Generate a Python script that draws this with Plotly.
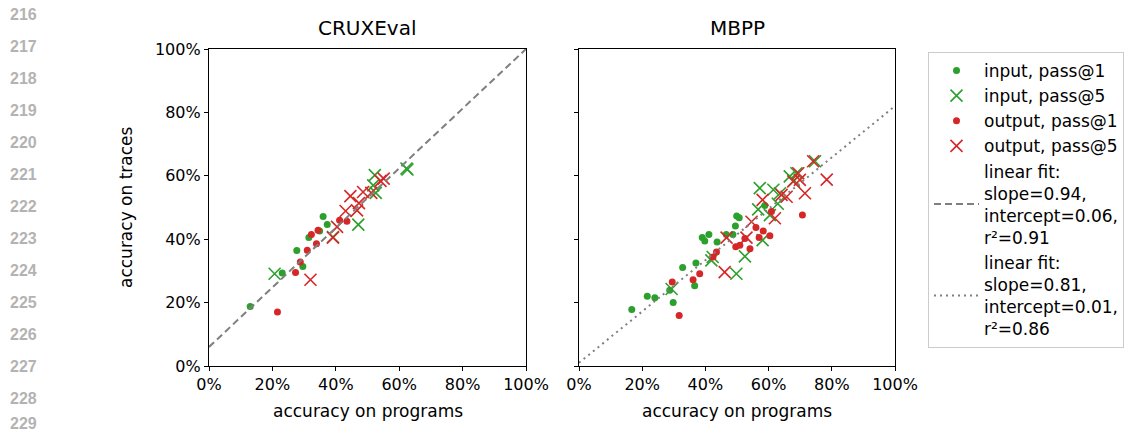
import plotly.graph_objects as go

# ---------------- data (percent) ----------------
cx_in1_x = [13.0, 23.1, 27.7, 29.6, 31.5, 34.9, 36.0, 37.3]
cx_in1_y = [18.8, 29.3, 36.4, 31.4, 40.5, 42.6, 47.2, 44.6]
cx_in5_x = [20.7, 39.1, 47.1, 51.8, 52.6, 52.3, 62.3, 62.6]
cx_in5_y = [29.1, 40.7, 44.6, 57.0, 54.6, 60.2, 62.3, 62.0]
cx_out1_x = [21.6, 27.3, 28.8, 31.0, 32.3, 33.9, 34.4, 41.2, 43.5]
cx_out1_y = [17.0, 29.5, 32.8, 36.5, 41.5, 38.6, 42.8, 46.0, 45.7]
cx_out5_x = [32.0, 39.1, 40.4, 43.1, 44.6, 46.7, 47.3, 48.6, 51.2, 54.1, 55.1]
cx_out5_y = [27.2, 40.5, 43.9, 48.9, 53.6, 49.1, 51.4, 54.9, 54.6, 58.4, 59.1]

mb_in1_x = [16.7, 21.6, 24.0, 28.7, 29.8, 32.8, 36.6, 37.0, 39.0, 39.8, 41.1, 43.7,
            46.6, 48.7, 49.5, 49.9, 50.7, 58.8]
mb_in1_y = [17.8, 22.0, 21.5, 23.9, 20.0, 31.1, 25.3, 32.5, 40.5, 39.4, 41.5, 39.1,
            41.5, 41.5, 44.2, 47.3, 46.8, 50.6]
mb_in5_x = [29.3, 41.9, 42.3, 49.8, 52.5, 56.7, 57.2, 58.1, 60.4, 61.5, 62.9, 63.6,
            66.7, 68.0, 68.8, 74.7]
mb_in5_y = [24.3, 33.3, 34.4, 29.1, 34.6, 49.4, 56.1, 39.7, 47.6, 55.6, 51.2, 54.5,
            59.8, 58.5, 60.8, 64.6]
mb_out1_x = [29.5, 31.7, 36.1, 38.2, 42.4, 43.5, 49.6, 50.9, 52.5, 54.1, 56.0, 57.0,
             58.3, 60.4, 60.9, 70.7]
mb_out1_y = [26.5, 15.9, 27.2, 29.1, 34.4, 36.0, 37.6, 38.1, 40.2, 37.0, 43.7, 40.5,
             42.6, 41.1, 48.7, 47.6]
mb_out5_x = [46.1, 46.7, 53.0, 54.6, 58.1, 62.0, 64.1, 65.7, 67.8, 69.4, 69.9, 71.5,
             74.1, 78.4]
mb_out5_y = [29.6, 40.5, 40.5, 45.5, 52.4, 46.6, 54.0, 53.4, 58.2, 60.8, 58.7, 54.5,
             64.6, 58.8]

fit_cx = {"slope": 0.94, "intercept": 0.06, "r2": 0.91}
fit_mb = {"slope": 0.81, "intercept": 0.01, "r2": 0.86}
fit_x = [0, 100]

titles = ["CRUXEval", "MBPP"]
tick_vals = [0, 20, 40, 60, 80, 100]
tick_text = ["0%", "20%", "40%", "60%", "80%", "100%"]
line_numbers = list(range(216, 230))

GREEN = "#2ca02c"
RED = "#d62728"
GREY = "#7f7f7f"
FONT = "DejaVu Sans"

W, H = 1139, 435
ML, MR, MT, MB = 209, 244, 49, 69
PW = W - ML - MR
PH = H - MT - MB

def px_x(x):
    return (x - ML) / PW

def px_y(y):
    return (H - MB - y) / PH

fig = go.Figure()

dot = dict(symbol="circle", size=7)
cross = dict(symbol="x-thin-open", size=12)

series = [
    ("input, pass@1", GREEN, dot, cx_in1_x, cx_in1_y, mb_in1_x, mb_in1_y),
    ("input, pass@5", GREEN, cross, cx_in5_x, cx_in5_y, mb_in5_x, mb_in5_y),
    ("output, pass@1", RED, dot, cx_out1_x, cx_out1_y, mb_out1_x, mb_out1_y),
    ("output, pass@5", RED, cross, cx_out5_x, cx_out5_y, mb_out5_x, mb_out5_y),
]
for name, col, mk, x1, y1, x2, y2 in series:
    m = dict(mk)
    m["color"] = col
    if mk is cross:
        m["line"] = dict(width=1.6, color=col)
    fig.add_trace(go.Scatter(x=x1, y=y1, mode="markers", marker=m, name=name,
                             legendgroup=name, xaxis="x", yaxis="y"))
    fig.add_trace(go.Scatter(x=x2, y=y2, mode="markers", marker=m, name=name,
                             legendgroup=name, showlegend=False, xaxis="x2", yaxis="y2"))

def fit_name(f):
    return ("linear fit:<br>slope=%.2f,<br>intercept=%.2f,<br>r²=%.2f"
            % (f["slope"], f["intercept"], f["r2"]))

fig.add_trace(go.Scatter(
    x=fit_x, y=[(f * fit_cx["slope"] + 100 * fit_cx["intercept"]) for f in fit_x],
    mode="lines", line=dict(color=GREY, width=2, dash="7px,4px"),
    name=fit_name(fit_cx), xaxis="x", yaxis="y"))
fig.add_trace(go.Scatter(
    x=fit_x, y=[(f * fit_mb["slope"] + 100 * fit_mb["intercept"]) for f in fit_x],
    mode="lines", line=dict(color=GREY, width=2, dash="2px,4px"),
    name=fit_name(fit_mb), xaxis="x2", yaxis="y2"))

axis_common = dict(
    range=[0, 100], tickmode="array", tickvals=tick_vals, ticktext=tick_text,
    showgrid=False, zeroline=False, showline=True, mirror=True,
    linecolor="black", linewidth=1.2, ticks="outside", ticklen=4,
    tickwidth=1.2, tickcolor="black",
    tickfont=dict(family=FONT, size=16, color="black"),
)

d1 = [0, px_x(526)]
d2 = [px_x(579), 1]

fig.update_layout(
    width=W, height=H,
    margin=dict(l=ML, r=MR, t=MT, b=MB, autoexpand=False),
    paper_bgcolor="white", plot_bgcolor="white",
    font=dict(family=FONT, size=16, color="black"),
    xaxis=dict(domain=d1, anchor="y", **axis_common),
    yaxis=dict(domain=[0, 1], anchor="x", **axis_common),
    xaxis2=dict(domain=d2, anchor="y2", **axis_common),
    yaxis2=dict(domain=[0, 1], anchor="x2", showticklabels=False, **axis_common),
    legend=dict(
        x=px_x(928), y=px_y(52), xanchor="left", yanchor="top",
        bgcolor="white", bordercolor="#cccccc", borderwidth=1,
        font=dict(family=FONT, size=17, color="black"),
        tracegroupgap=0, itemwidth=45,
    ),
    showlegend=True,
)

ann = []
for t, d in zip(titles, [d1, d2]):
    ann.append(dict(text=t, x=(d[0] + d[1]) / 2, y=px_y(28), xref="paper", yref="paper",
                    showarrow=False, font=dict(family=FONT, size=20, color="black"),
                    xanchor="center", yanchor="middle"))
    ann.append(dict(text="accuracy on programs", x=(d[0] + d[1]) / 2, y=px_y(411),
                    xref="paper", yref="paper", showarrow=False,
                    font=dict(family=FONT, size=17, color="black"),
                    xanchor="center", yanchor="middle"))
ann.append(dict(text="accuracy on traces", x=px_x(126), y=px_y(207), xref="paper",
                yref="paper", showarrow=False, textangle=-90,
                font=dict(family=FONT, size=17, color="black"),
                xanchor="center", yanchor="middle"))
for i, n in enumerate(line_numbers):
    ann.append(dict(text="<b>%d</b>" % n, x=px_x(8), y=px_y(min(14 + i * 32.0, 423)),
                    xref="paper", yref="paper", showarrow=False,
                    font=dict(family="Liberation Sans", size=16, color="#b3b3b3"),
                    xanchor="left", yanchor="middle"))
fig.update_layout(annotations=ann)

fig.write_html("out.html")
